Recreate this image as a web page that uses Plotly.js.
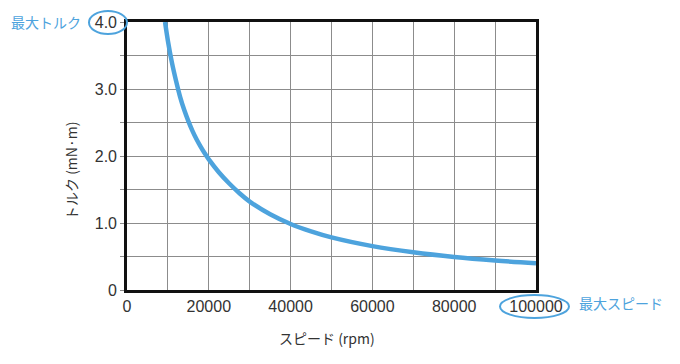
<!DOCTYPE html>
<html>
<head>
<meta charset="utf-8">
<script src="https://cdn.plot.ly/plotly-3.0.1.min.js"></script>
<style>html,body{margin:0;padding:0;background:#fff;}#chart{width:680px;height:364px;}</style>
</head>
<body>
<div id="chart"></div>
<script>
// Data
const speed = [9300, 10000, 11000, 12000, 13000, 14000, 15000, 16000, 17000, 18000, 19000, 20000, 22500, 25000, 27500, 30000, 35000, 40000, 45000, 50000, 60000, 70000, 80000, 90000, 100000];
const torque = [4.0, 3.72, 3.39, 3.12, 2.88, 2.685, 2.52, 2.375, 2.25, 2.14, 2.04, 1.95, 1.755, 1.59, 1.445, 1.32, 1.13, 0.985, 0.875, 0.785, 0.655, 0.562, 0.492, 0.44, 0.40];

const xTickVals = [0, 10000, 20000, 30000, 40000, 50000, 60000, 70000, 80000, 90000, 100000];
const xTickText = ['0', '', '20000', '', '40000', '', '60000', '', '80000', '', '100000'];
const yTickVals = [0, 0.5, 1.0, 1.5, 2.0, 2.5, 3.0, 3.5, 4.0];
const yTickText = ['0', '', '1.0', '', '2.0', '', '3.0', '', '4.0'];

const xTitle = 'スピード (rpm)';
const yTitle = 'トルク (mN·m)';
const maxTorqueLabel = '最大トルク';
const maxSpeedLabel = '最大スピード';

const FONT = '"Liberation Sans", Arial, "Noto Sans CJK JP", sans-serif';
const JFONT = '"Noto Sans CJK JP", "Liberation Sans", sans-serif';
const BLUE = '#4da3dd';

const L = 127, R = 536, T = 22, B = 290;
const W = 680, H = 364;
const pw = R - L, ph = B - T;
const px = x => (x - L) / pw;
const py = y => (B - y) / ph;

const trace = {
  x: speed, y: torque, type: 'scatter', mode: 'lines',
  line: {color: BLUE, width: 4.5, shape: 'spline', smoothing: 1},
  hoverinfo: 'skip', cliponaxis: true
};

const layout = {
  width: W, height: H,
  margin: {l: L, r: W - R, t: T, b: H - B, pad: 0},
  paper_bgcolor: '#fff', plot_bgcolor: '#fff',
  showlegend: false,
  font: {family: FONT, size: 16, color: '#333'},
  xaxis: {
    range: [0, 100000], tickvals: xTickVals, ticktext: xTickText,
    showgrid: true, gridcolor: '#8c8c8c', gridwidth: 1,
    showline: true, mirror: true, linecolor: '#111', linewidth: 2.8,
    ticks: '', zeroline: false, fixedrange: true,
    tickfont: {family: FONT, size: 16, color: '#333'}
  },
  yaxis: {
    range: [0, 4.0], tickvals: yTickVals, ticktext: yTickText,
    showgrid: true, gridcolor: '#8c8c8c', gridwidth: 1,
    showline: true, mirror: true, linecolor: '#111', linewidth: 2.8,
    ticks: 'outside', ticklen: 4, tickcolor: '#8c8c8c', tickwidth: 1,
    zeroline: false, fixedrange: true,
    tickfont: {family: FONT, size: 16, color: '#333'}
  },
  annotations: [
    {text: xTitle, xref: 'paper', yref: 'paper', x: px(327), y: py(338), showarrow: false,
     xanchor: 'center', yanchor: 'middle', font: {family: JFONT, size: 14, color: '#333'}},
    {text: yTitle, xref: 'paper', yref: 'paper', x: px(71), y: py(171), showarrow: false,
     textangle: -90, xanchor: 'center', yanchor: 'middle', font: {family: JFONT, size: 14, color: '#333'}},
    {text: maxTorqueLabel, xref: 'paper', yref: 'paper', x: px(46), y: py(22), showarrow: false,
     xanchor: 'center', yanchor: 'middle', font: {family: JFONT, size: 14, color: BLUE}},
    {text: maxSpeedLabel, xref: 'paper', yref: 'paper', x: px(621), y: py(303), showarrow: false,
     xanchor: 'center', yanchor: 'middle', font: {family: JFONT, size: 14, color: BLUE}}
  ],
  shapes: [
    {type: 'circle', xref: 'paper', yref: 'paper', x0: px(89), x1: px(127), y0: py(34), y1: py(11),
     line: {color: BLUE, width: 2}, layer: 'above'},
    {type: 'circle', xref: 'paper', yref: 'paper', x0: px(500), x1: px(569), y0: py(318), y1: py(295),
     line: {color: BLUE, width: 2}, layer: 'above'}
  ]
};

Plotly.newPlot('chart', [trace], layout, {staticPlot: true, displayModeBar: false});
</script>
</body>
</html>
